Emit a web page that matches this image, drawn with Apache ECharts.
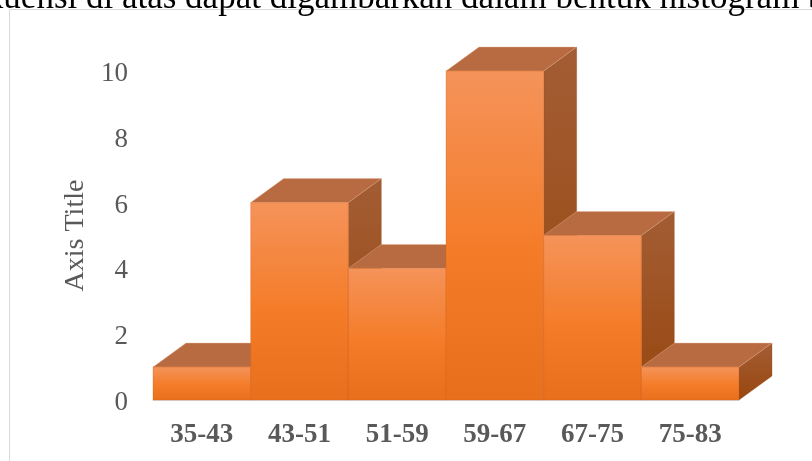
<!DOCTYPE html>
<html>
<head>
<meta charset="utf-8">
<script src="https://cdn.jsdelivr.net/npm/echarts@6/dist/echarts.min.js"></script>
<style>
  html, body { margin: 0; padding: 0; background: #ffffff; }
  #chart { width: 812px; height: 461px; }
</style>
</head>
<body>
<div id="chart"></div>
<script>
// Class intervals and their frequencies
const categories = ['35-43', '43-51', '51-59', '59-67', '67-75', '75-83'];
const frequencies = [1, 6, 4, 10, 5, 1];
const yTicks = { min: 0, max: 10, interval: 2 };
const captionText = 'frekuensi di atas dapat digambarkan dalam bentuk histogram berikut';

const SERIF = '"Liberation Serif", "Times New Roman", serif';
const TEXT_GRAY = '#595959';

// depth offset of the extruded boxes
const DEPTH_X = 33;
const DEPTH_Y = -24;

const chart = echarts.init(document.getElementById('chart'), null, { renderer: 'canvas' });

function renderBox(params, api) {
  const cat = api.value(0);
  const val = api.value(1);
  const base = api.coord([cat, 0]);
  const top = api.coord([cat, val]);
  const bw = api.size([1, 0])[0];
  const x0 = base[0] - bw / 2;
  const x1 = base[0] + bw / 2;
  const yB = base[1];
  const yT = top[1];

  const frontFill = new echarts.graphic.LinearGradient(0, 0, 0, 1, [
    { offset: 0, color: '#F5935A' },
    { offset: 0.55, color: '#F47C28' },
    { offset: 1, color: '#E86F1C' }
  ]);
  const sideFill = new echarts.graphic.LinearGradient(0, 0, 0, 1, [
    { offset: 0, color: '#A35D34' },
    { offset: 1, color: '#98470F' }
  ]);

  return {
    type: 'group',
    children: [
      {
        type: 'polygon',
        shape: { points: [[x1, yT], [x1 + DEPTH_X, yT + DEPTH_Y], [x1 + DEPTH_X, yB + DEPTH_Y], [x1, yB]] },
        style: { fill: sideFill, stroke: 'rgba(150,70,20,0.6)', lineWidth: 0.5 }
      },
      {
        type: 'polygon',
        shape: { points: [[x0, yT], [x0 + DEPTH_X, yT + DEPTH_Y], [x1 + DEPTH_X, yT + DEPTH_Y], [x1, yT]] },
        style: { fill: '#B86B40', stroke: 'rgba(230,180,150,0.7)', lineWidth: 0.6 }
      },
      {
        type: 'rect',
        shape: { x: x0, y: yT, width: x1 - x0, height: yB - yT },
        style: { fill: frontFill, stroke: 'rgba(210,95,20,0.5)', lineWidth: 0.6 }
      }
    ]
  };
}

const option = {
  animation: false,
  backgroundColor: '#ffffff',
  graphic: [
    {
      type: 'rect',
      shape: { x: 9.5, y: 9.5, width: 900, height: 600 },
      style: { fill: 'none', stroke: '#D9D9D9', lineWidth: 1 },
      z: 0
    },
    {
      type: 'text',
      x: -53,
      y: 16,
      style: {
        text: captionText,
        font: '35px ' + SERIF,
        fill: '#000000',
        textVerticalAlign: 'bottom'
      },
      z: 10
    }
  ],
  grid: { left: 153, right: 73, top: 71, bottom: 61, containLabel: false },
  xAxis: {
    type: 'category',
    data: categories,
    boundaryGap: true,
    axisLine: { show: true, lineStyle: { color: '#D9D9D9', width: 1 } },
    axisTick: { show: false },
    splitLine: { show: false },
    axisLabel: {
      margin: 22,
      color: TEXT_GRAY,
      fontFamily: SERIF,
      fontSize: 27,
      fontWeight: 'bold'
    }
  },
  yAxis: {
    type: 'value',
    min: yTicks.min,
    max: yTicks.max,
    interval: yTicks.interval,
    name: 'Axis Title',
    nameLocation: 'middle',
    nameRotate: 90,
    nameGap: 62,
    nameTextStyle: { color: TEXT_GRAY, fontFamily: SERIF, fontSize: 28 },
    axisLine: { show: false },
    axisTick: { show: false },
    splitLine: { show: false },
    axisLabel: {
      margin: 25,
      formatter: '{t|{value}}',
      rich: {
        t: {
          color: TEXT_GRAY,
          fontFamily: SERIF,
          fontSize: 27,
          padding: [6, 0, 0, 0]
        }
      }
    }
  },
  series: [
    {
      type: 'custom',
      renderItem: renderBox,
      encode: { x: 0, y: 1 },
      clip: false,
      data: categories.map((c, i) => [i, frequencies[i]])
    }
  ]
};

chart.setOption(option);
</script>
</body>
</html>
